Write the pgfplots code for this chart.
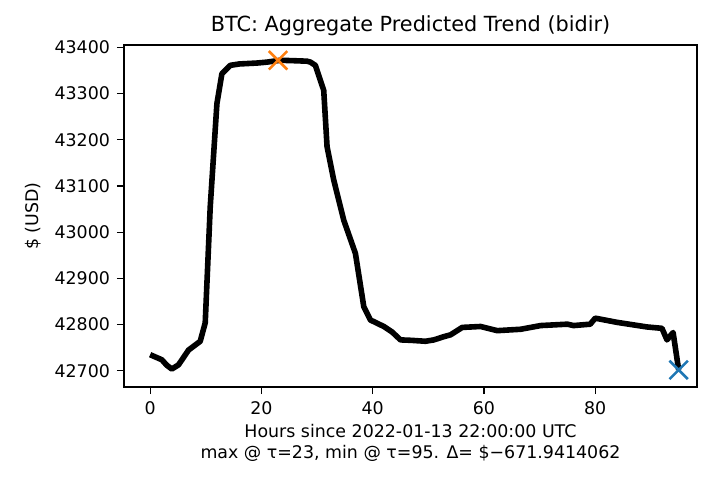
\documentclass[border=0pt]{standalone}
\usepackage{pgfplots}
\pgfplotsset{compat=1.18}
\usepackage{fontspec}
\setmainfont{DejaVu Sans}
\definecolor{mplorange}{RGB}{255,127,14}
\definecolor{mplblue}{RGB}{31,119,180}
\begin{document}
\begin{tikzpicture}
\begin{axis}[
  scale only axis, width=286.5pt, height=171pt,
  xmin=-4.7, xmax=98.3, ymin=42665, ymax=43405,
  xtick={0,20,40,60,80}, ytick={42700,42800,42900,43000,43100,43200,43300,43400},
  /pgf/number format/assume math mode=true,
  yticklabel style={/pgf/number format/set thousands separator={}},
  scaled y ticks=false,
  tick label style={font=\fontsize{8.7}{10}\selectfont},
  tick align=outside, tick pos=left, major tick length=3.5pt,
  axis line style={line width=0.6pt}, every tick/.style={black,line width=0.6pt},
  title={BTC: Aggregate Predicted Trend (bidir)},
  title style={font=\fontsize{10.4}{12}\selectfont, yshift=-5pt},
  xlabel={Hours since 2022-01-13 22:00:00 UTC\\max @ τ=23, min @ τ=95. Δ= \$−671.9414062},
  xlabel style={font=\fontsize{8.7}{10.5}\selectfont, align=center, yshift=2pt},
  ylabel={\$ (USD)}, ylabel style={font=\fontsize{8.7}{10}\selectfont},
  clip=false,
]
\path (rel axis cs:-0.2164,-0.2924) rectangle (rel axis cs:1.0401,1.1316);
\addplot[black, line width=2.8pt, line join=round] coordinates {
(0,42735)(2.1,42724)(3,42712)(3.9,42704)(5.1,42713)(6.9,42745)(9,42764)(9.9,42804)
(10.8,43055)(12,43278)(12.9,43343)(14.4,43361)(16,43364)(19.2,43366)(21,43368)(23.4,43372)
(26,43371)(28.2,43370)(28.8,43368)(29.7,43361)(31.2,43307)(31.8,43185)(33,43113)(34.8,43026)
(36.9,42954)(38.4,42839)(39.6,42810)(42,42796)(43.5,42784)(45,42767)(47,42766)(49.5,42764)
(51,42767)(52.8,42774)(54,42778)(56.1,42794)(59.4,42796)(62.4,42787)(66.6,42790)(70.2,42798)
(75,42801)(76.1,42798)(79.1,42801)(80,42814)(83.9,42805)(89.3,42795)(92,42792)(92.9,42767)
(94,42783)(95,42702)};
\addplot[only marks, mark=x, mark size=6.5pt, color=mplorange, line width=1.3pt] coordinates {(23,43372)};
\addplot[only marks, mark=x, mark size=6.5pt, color=mplblue, line width=1.3pt] coordinates {(95,42702)};
\end{axis}
\end{tikzpicture}
\end{document}
